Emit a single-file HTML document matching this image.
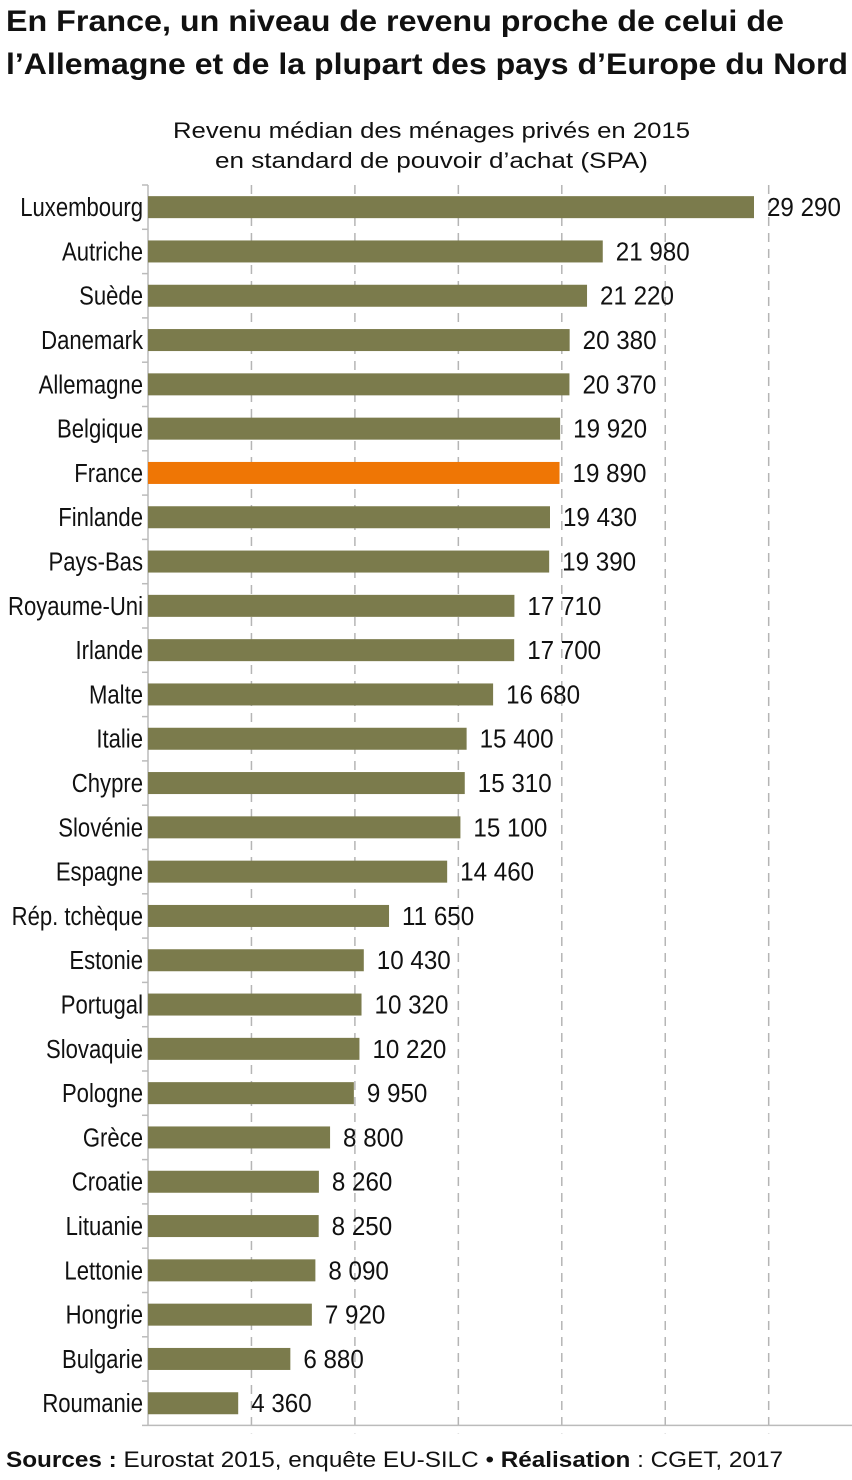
<!DOCTYPE html>
<html><head><meta charset="utf-8"><style>
body{margin:0;background:#fff;width:852px;height:1475px;overflow:hidden;font-family:"Liberation Sans",sans-serif}
</style></head><body>
<svg width="852" height="1475" xmlns="http://www.w3.org/2000/svg" font-family="Liberation Sans, sans-serif">
<text x="6" y="31" font-size="30" font-weight="bold" fill="#111" textLength="778" lengthAdjust="spacingAndGlyphs">En France, un niveau de revenu proche de celui de</text>
<text x="6" y="74" font-size="30" font-weight="bold" fill="#111" textLength="842" lengthAdjust="spacingAndGlyphs">l’Allemagne et de la plupart des pays d’Europe du Nord</text>
<text x="173" y="138" font-size="22" fill="#111" textLength="517" lengthAdjust="spacingAndGlyphs">Revenu médian des ménages privés en 2015</text>
<text x="215" y="168" font-size="22" fill="#111" textLength="433" lengthAdjust="spacingAndGlyphs">en standard de pouvoir d’achat (SPA)</text>
<g id="grid"></g><g id="bars"></g>
<text x="6" y="1467" font-size="22" fill="#111" textLength="777" lengthAdjust="spacingAndGlyphs"><tspan font-weight="bold">Sources :</tspan> Eurostat 2015, enquête EU-SILC • <tspan font-weight="bold">Réalisation</tspan> : CGET, 2017</text>
</svg>
<script>
const categories=["Luxembourg","Autriche","Suède","Danemark","Allemagne","Belgique","France","Finlande","Pays-Bas","Royaume-Uni","Irlande","Malte","Italie","Chypre","Slovénie","Espagne","Rép. tchèque","Estonie","Portugal","Slovaquie","Pologne","Grèce","Croatie","Lituanie","Lettonie","Hongrie","Bulgarie","Roumanie"];
const values=[29290,21980,21220,20380,20370,19920,19890,19430,19390,17710,17700,16680,15400,15310,15100,14460,11650,10430,10320,10220,9950,8800,8260,8250,8090,7920,6880,4360];
const ticks=[5000,10000,15000,20000,25000,30000];
const NS="http://www.w3.org/2000/svg";
const x0=148, kx=(754-148)/29290, topY=185, band=44.3, bh=22;
const xs=v=>x0+v*kx, yb=i=>topY+i*band;
const bottom=yb(categories.length);
function mk(t,a,p){const e=document.createElementNS(NS,t);for(const k in a)e.setAttribute(k,a[k]);p.appendChild(e);return e;}
const g=document.getElementById('grid'), b=document.getElementById('bars');
function fmt(v){const s=String(v);return s.length>3?s.slice(0,s.length-3)+' '+s.slice(-3):s;}
ticks.forEach(t=>{
 const l=mk('line',{x1:xs(t),x2:xs(t),y1:topY,y2:bottom+8,stroke:'#b5b5b5','stroke-width':1.5,'stroke-dasharray':'9,7'},g);
 
 
});
const ax=mk('line',{x1:x0,x2:x0,y1:topY,y2:bottom,stroke:'#bbb','stroke-width':1.5},g);


const bx=mk('line',{x1:x0,x2:852,y1:bottom,y2:bottom,stroke:'#bbb','stroke-width':1.5},g);


for(let i=0;i<=categories.length;i++){mk('line',{x1:x0-6,x2:x0,y1:yb(i),y2:yb(i),stroke:'#bbb','stroke-width':1.5},g);}
categories.forEach((c,i)=>{
 const cy=yb(i)+band/2;
 const r=mk('rect',{x:x0,y:cy-bh/2,width:xs(values[i])-x0,height:bh,fill:c==='France'?'#ef7605':'#7b7b4c'},b);
 
 
 const lab=mk('text',{x:(x0-5)/0.85,y:cy+9,'font-size':26,'text-anchor':'end',fill:'#111',transform:'scale(0.85,1)'},b);
 lab.textContent=c;
 
 
 const vl=mk('text',{x:(xs(values[i])+13)/0.93,y:cy+9,'font-size':26,fill:'#111',transform:'scale(0.93,1)'},b);
 vl.textContent=fmt(values[i]);
 
 
});
</script>
</body></html>
